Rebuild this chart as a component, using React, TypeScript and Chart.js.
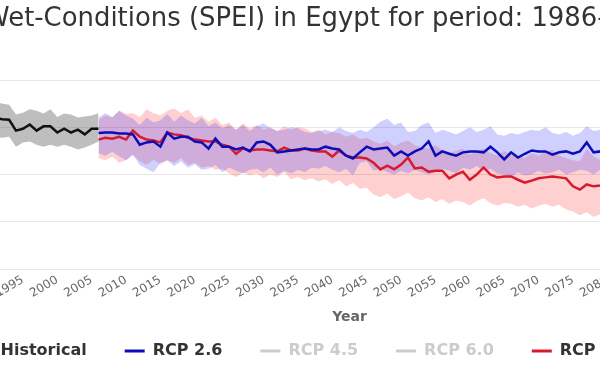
import React, { useEffect, useRef } from 'react';
import { Chart, registerables } from 'chart.js';

Chart.register(...registerables);

const titleText = 'Dry/Wet-Conditions (SPEI) in Egypt for period: 1986-2099';
const xAxisTitle = 'Year';
const seriesNames = ['Historical', 'RCP 2.6', 'RCP 4.5', 'RCP 6.0', 'RCP 8.5'];
const xTickYears = [1990, 1995, 2000, 2005, 2010, 2015, 2020, 2025, 2030, 2035, 2040, 2045, 2050, 2055, 2060, 2065, 2070, 2075, 2080, 2085, 2090, 2095];

const histYears = [1986, 1987, 1988, 1989, 1990, 1991, 1992, 1993, 1994, 1995, 1996, 1997, 1998, 1999, 2000, 2001, 2002, 2003, 2004, 2005, 2006];
const histMean = [1.05, 1.25, 1.10, 1.30, 1.15, 1.20, 1.17, 1.16, 0.93, 0.97, 1.06, 0.93, 1.02, 1.02, 0.89, 0.97, 0.89, 0.95, 0.85, 0.97, 0.97];
const histUpper = [1.45, 1.62, 1.50, 1.66, 1.52, 1.55, 1.50, 1.48, 1.27, 1.31, 1.38, 1.35, 1.29, 1.38, 1.22, 1.29, 1.27, 1.21, 1.23, 1.25, 1.29];
const histLower = [0.68, 0.88, 0.72, 0.92, 0.76, 0.80, 0.78, 0.80, 0.59, 0.68, 0.70, 0.63, 0.59, 0.63, 0.59, 0.63, 0.59, 0.53, 0.57, 0.63, 0.70];

const projYears = [
  2006, 2007, 2008, 2009, 2010, 2011, 2012, 2013, 2014, 2015,
  2016, 2017, 2018, 2019, 2020, 2021, 2022, 2023, 2024, 2025,
  2026, 2027, 2028, 2029, 2030, 2031, 2032, 2033, 2034, 2035,
  2036, 2037, 2038, 2039, 2040, 2041, 2042, 2043, 2044, 2045,
  2046, 2047, 2048, 2049, 2050, 2051, 2052, 2053, 2054, 2055,
  2056, 2057, 2058, 2059, 2060, 2061, 2062, 2063, 2064, 2065,
  2066, 2067, 2068, 2069, 2070, 2071, 2072, 2073, 2074, 2075,
  2076, 2077, 2078, 2079, 2080, 2081, 2082, 2083, 2084, 2085,
  2086, 2087, 2088, 2089, 2090, 2091, 2092, 2093, 2094, 2095,
  2096, 2097, 2098, 2099,
];

const rcp26Mean = [
  0.88, 0.89, 0.89, 0.87, 0.87, 0.85, 0.63, 0.68, 0.70, 0.59,
  0.89, 0.76, 0.80, 0.80, 0.70, 0.68, 0.55, 0.76, 0.59, 0.59,
  0.53, 0.57, 0.49, 0.68, 0.70, 0.63, 0.47, 0.49, 0.51, 0.53,
  0.55, 0.53, 0.53, 0.59, 0.55, 0.53, 0.40, 0.34, 0.47, 0.59,
  0.53, 0.55, 0.57, 0.40, 0.49, 0.40, 0.49, 0.55, 0.70, 0.40,
  0.49, 0.44, 0.40, 0.47, 0.49, 0.49, 0.47, 0.59, 0.47, 0.32,
  0.47, 0.36, 0.44, 0.51, 0.49, 0.49, 0.42, 0.47, 0.49, 0.44,
  0.49, 0.68, 0.47, 0.49, 0.45, 0.52, 0.40, 0.48, 0.55, 0.43,
  0.50, 0.38, 0.47, 0.53, 0.44, 0.49, 0.41, 0.52, 0.46, 0.39,
  0.50, 0.45, 0.42, 0.48,
];
const rcp26Upper = [
  1.20, 1.30, 1.22, 1.35, 1.25, 1.18, 1.05, 1.20, 1.10, 1.15,
  1.28, 1.12, 1.25, 1.15, 1.08, 1.20, 1.02, 1.10, 0.98, 1.05,
  0.95, 1.05, 0.92, 1.02, 1.08, 0.98, 0.92, 0.95, 1.00, 0.98,
  0.90, 0.88, 0.92, 0.95, 0.90, 1.00, 0.92, 0.88, 0.95, 0.90,
  1.00, 1.12, 1.18, 1.05, 1.10, 0.90, 0.92, 1.05, 1.10, 0.88,
  0.95, 0.90, 0.85, 0.92, 1.00, 0.90, 0.95, 1.02, 0.85, 0.82,
  0.88, 0.85, 0.90, 0.95, 0.92, 1.00, 0.88, 0.85, 0.90, 0.82,
  0.88, 1.02, 0.92, 0.95, 0.90, 0.98, 0.85, 0.92, 1.02, 0.88,
  0.95, 0.82, 0.90, 1.00, 0.86, 0.95, 0.84, 0.98, 0.90, 0.82,
  0.96, 0.88, 0.85, 0.92,
];
const rcp26Lower = [
  0.45, 0.40, 0.48, 0.38, 0.30, 0.42, 0.20, 0.12, 0.05, 0.25,
  0.30, 0.18, 0.28, 0.15, 0.22, 0.10, 0.12, 0.20, 0.05, 0.15,
  0.08, 0.02, 0.10, 0.12, 0.05, 0.15, 0.00, 0.08, 0.02, 0.10,
  0.05, 0.15, 0.12, 0.18, 0.10, 0.05, 0.12, -0.02, 0.25, 0.28,
  0.08, 0.12, 0.05, 0.00, 0.08, 0.02, 0.10, 0.05, 0.00, 0.05,
  0.12, 0.08, 0.02, 0.15, 0.10, 0.18, 0.08, 0.12, 0.02, 0.00,
  -0.05, 0.05, -0.02, 0.00, 0.08, 0.02, 0.05, 0.10, 0.00, 0.05,
  0.10, 0.08, 0.00, 0.10, 0.02, 0.10, -0.05, 0.05, 0.12, -0.02,
  0.08, -0.08, 0.03, 0.10, 0.00, 0.06, -0.04, 0.08, 0.02, -0.06,
  0.05, 0.00, -0.03, 0.04,
];

const rcp85Mean = [
  0.74, 0.78, 0.76, 0.80, 0.74, 0.93, 0.80, 0.74, 0.72, 0.68,
  0.89, 0.85, 0.83, 0.78, 0.74, 0.72, 0.70, 0.70, 0.63, 0.59,
  0.44, 0.55, 0.51, 0.53, 0.53, 0.51, 0.49, 0.57, 0.51, 0.51,
  0.55, 0.51, 0.49, 0.49, 0.38, 0.51, 0.40, 0.36, 0.36, 0.34,
  0.25, 0.11, 0.19, 0.11, 0.21, 0.36, 0.13, 0.15, 0.06, 0.08,
  0.08, -0.08, 0.00, 0.06, -0.11, 0.00, 0.15, 0.00, -0.06, -0.04,
  -0.04, -0.11, -0.17, -0.13, -0.08, -0.06, -0.04, -0.06, -0.08, -0.25,
  -0.32, -0.21, -0.25, -0.23, -0.20, -0.30, -0.26, -0.35, -0.28, -0.40,
  -0.33, -0.38, -0.45, -0.36, -0.42, -0.50, -0.44, -0.48, -0.55, -0.47,
  -0.52, -0.58, -0.50, -0.56,
];
const rcp85Upper = [
  1.15, 1.25, 1.20, 1.35, 1.28, 1.30, 1.22, 1.38, 1.30, 1.25,
  1.35, 1.40, 1.30, 1.38, 1.20, 1.25, 1.12, 1.20, 1.05, 1.10,
  0.95, 1.08, 0.98, 1.05, 0.95, 1.00, 0.92, 1.02, 0.95, 1.00,
  0.98, 0.90, 0.95, 0.85, 0.90, 0.88, 0.80, 0.85, 0.75, 0.78,
  0.70, 0.65, 0.72, 0.60, 0.68, 0.72, 0.62, 0.58, 0.55, 0.62,
  0.52, 0.45, 0.50, 0.55, 0.42, 0.48, 0.55, 0.45, 0.40, 0.50,
  0.42, 0.38, 0.35, 0.45, 0.40, 0.48, 0.52, 0.40, 0.35, 0.30,
  0.28, 0.55, 0.38, 0.30, 0.32, 0.22, 0.28, 0.18, 0.25, 0.12,
  0.20, 0.15, 0.08, 0.18, 0.10, 0.02, 0.10, 0.05, -0.02, 0.06,
  0.00, -0.05, 0.04, -0.02,
];
const rcp85Lower = [
  0.35, 0.30, 0.38, 0.25, 0.30, 0.42, 0.28, 0.20, 0.32, 0.22,
  0.30, 0.25, 0.35, 0.20, 0.25, 0.15, 0.18, 0.10, 0.12, 0.02,
  -0.05, 0.05, -0.02, 0.02, -0.08, 0.00, -0.05, 0.05, -0.10, -0.05,
  -0.12, -0.08, -0.15, -0.10, -0.20, -0.12, -0.25, -0.18, -0.30, -0.28,
  -0.42, -0.48, -0.40, -0.52, -0.46, -0.38, -0.50, -0.55, -0.48, -0.58,
  -0.52, -0.62, -0.55, -0.58, -0.66, -0.56, -0.50, -0.60, -0.66, -0.60,
  -0.62, -0.68, -0.64, -0.72, -0.66, -0.62, -0.68, -0.64, -0.74, -0.78,
  -0.86, -0.80, -0.90, -0.84, -0.78, -0.88, -0.82, -0.92, -0.85, -0.96,
  -0.88, -0.92, -1.00, -0.90, -0.98, -1.05, -0.96, -1.02, -1.10, -1.00,
  -1.06, -1.12, -1.04, -1.10,
];

const CANVAS_W = 874;
const CANVAS_H = 380;
const CANVAS_OFFSET = 136;

export default function App() {
  const ref = useRef<HTMLCanvasElement | null>(null);

  useEffect(() => {
    const canvas = ref.current;
    if (!canvas) return;
    Chart.defaults.font.family = "'DejaVu Sans', sans-serif";

    const pts = (xs: number[], ys: number[]) => xs.map((x, i) => ({ x, y: ys[i] }));
    const bandEdge = (label: string, xs: number[], ys: number[], fill: any, bg: string) => ({
      label,
      data: pts(xs, ys),
      borderWidth: 0,
      borderColor: 'rgba(0,0,0,0)',
      backgroundColor: bg,
      pointRadius: 0,
      fill,
      order: 1,
    });
    const line = (label: string, xs: number[], ys: number[], color: string, hidden = false) => ({
      label,
      data: pts(xs, ys),
      borderColor: color,
      backgroundColor: color,
      borderWidth: 2.5,
      pointRadius: 0,
      fill: false,
      order: 0,
      hidden,
    });

    const chart = new Chart(canvas, {
      type: 'line',
      data: {
        datasets: [
          bandEdge('Historical upper', histYears, histUpper, false, 'rgba(110,110,110,0.45)'),
          bandEdge('Historical lower', histYears, histLower, '-1', 'rgba(110,110,110,0.45)'),
          bandEdge('RCP 2.6 upper', projYears, rcp26Upper, false, 'rgba(40,40,255,0.22)'),
          bandEdge('RCP 2.6 lower', projYears, rcp26Lower, '-1', 'rgba(40,40,255,0.22)'),
          bandEdge('RCP 8.5 upper', projYears, rcp85Upper, false, 'rgba(255,40,40,0.22)'),
          bandEdge('RCP 8.5 lower', projYears, rcp85Lower, '-1', 'rgba(255,40,40,0.22)'),
          line(seriesNames[0], histYears, histMean, '#111111'),
          line(seriesNames[1], projYears, rcp26Mean, '#0d0db8'),
          line(seriesNames[2], [], [], '#7cb5ec', true),
          line(seriesNames[3], [], [], '#90ed7d', true),
          line(seriesNames[4], projYears, rcp85Mean, '#d81a2e'),
        ] as any,
      },
      options: {
        responsive: false,
        animation: false,
        devicePixelRatio: 1,
        layout: { padding: { left: 0, right: 0, top: 0, bottom: 11 } },
        elements: { line: { tension: 0 }, point: { radius: 0 } },
        plugins: {
          title: {
            display: true,
            text: titleText,
            color: '#333333',
            font: { size: 25.9, weight: 'normal' },
            padding: { top: 4, bottom: 45 },
          },
          legend: {
            position: 'bottom',
            onClick: () => {},
            labels: {
              padding: 38,
              boxWidth: 20,
              boxHeight: 3,
              color: '#333333',
              font: { size: 16, weight: 'bold' },
              generateLabels: (c: any) =>
                c.data.datasets
                  .map((ds: any, i: number) => ({ ds, i }))
                  .filter((o: any) => seriesNames.includes(o.ds.label))
                  .map(({ ds, i }: any) => {
                    const off = ds.hidden === true;
                    return {
                      text: ds.label,
                      fillStyle: off ? '#cccccc' : ds.borderColor,
                      strokeStyle: off ? '#cccccc' : ds.borderColor,
                      lineWidth: 0,
                      fontColor: off ? '#cccccc' : '#333333',
                      hidden: false,
                      datasetIndex: i,
                    };
                  }),
            },
          },
          tooltip: { enabled: false },
        },
        scales: {
          x: {
            type: 'linear',
            min: 1986,
            max: 2099,
            afterBuildTicks: (s: any) => {
              s.ticks = xTickYears.map((v) => ({ value: v }));
            },
            afterFit: (s: any) => {
              s.height = 36;
            },
            grid: { display: false, drawTicks: false },
            border: { display: false },
            ticks: {
              color: '#666666',
              font: { size: 12 },
              minRotation: 30,
              maxRotation: 30,
              padding: 4,
              autoSkip: false,
              callback: (v: any) => String(v),
            },
            title: {
              display: true,
              text: xAxisTitle,
              color: '#666666',
              font: { size: 14, weight: 'bold' },
              padding: { top: 0, bottom: -21 },
            },
          },
          y: {
            min: -2,
            max: 2,
            afterFit: (s: any) => {
              s.width = CANVAS_OFFSET - 39;
            },
            grid: { color: '#e6e6e6', drawTicks: false },
            border: { display: false },
            ticks: { stepSize: 1, color: '#666666', padding: 8 },
          },
        },
      } as any,
    });

    return () => chart.destroy();
  }, []);

  return (
    <div
      style={{
        position: 'fixed',
        left: 0,
        top: 0,
        width: 600,
        height: 380,
        overflow: 'hidden',
        background: '#ffffff',
      }}
    >
      <canvas
        ref={ref}
        width={CANVAS_W}
        height={CANVAS_H}
        style={{ position: 'absolute', left: -CANVAS_OFFSET, top: 0, width: CANVAS_W, height: CANVAS_H }}
      />
    </div>
  );
}
